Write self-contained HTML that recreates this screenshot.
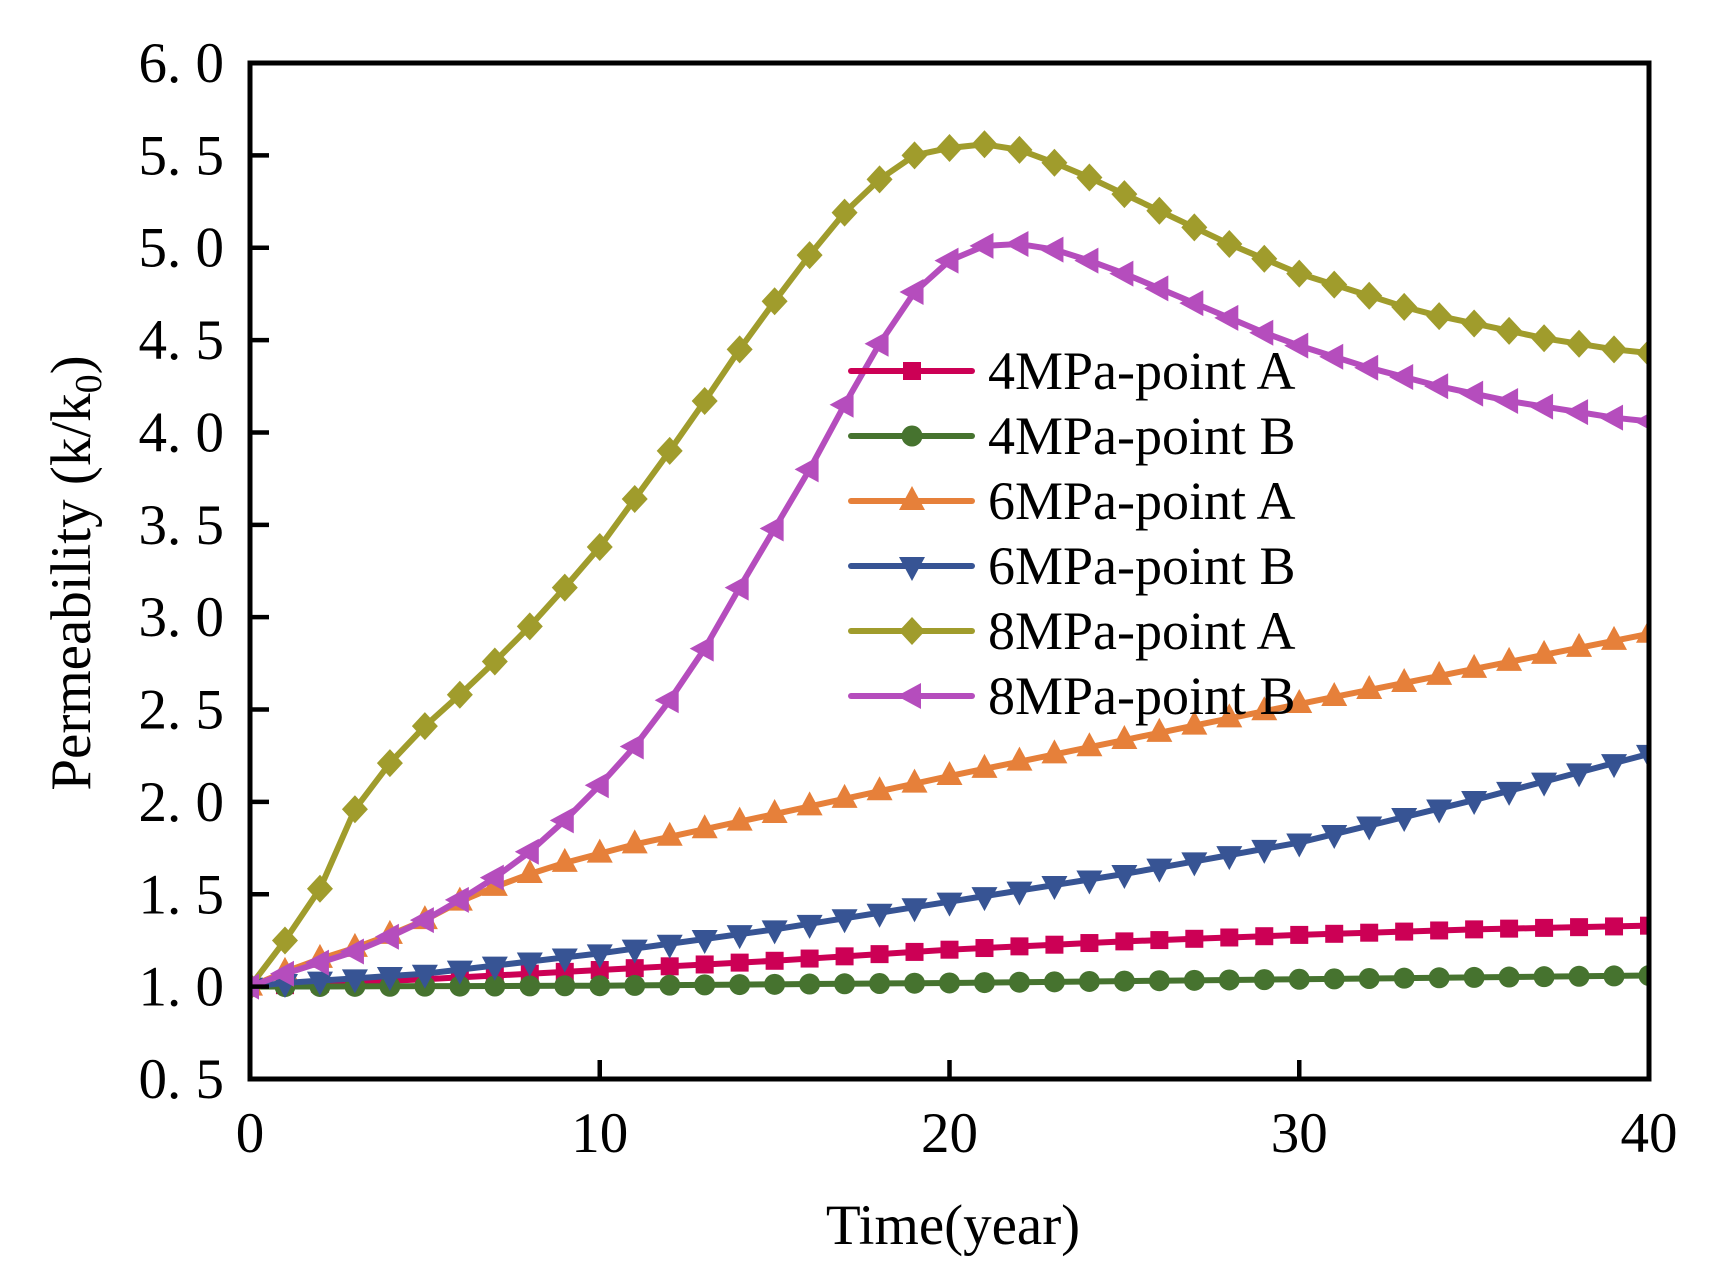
<!DOCTYPE html>
<html><head><meta charset="utf-8"><style>
html,body{margin:0;padding:0;background:#fff;}
svg{display:block;}
text{font-family:"Liberation Serif",serif;fill:#000;}
</style></head><body>
<svg id="s" width="1719" height="1277" xmlns="http://www.w3.org/2000/svg"></svg>
<script>
const S=document.getElementById('s');const NS='http://www.w3.org/2000/svg';
function el(t,a,p){const e=document.createElementNS(NS,t);for(const k in a)e.setAttribute(k,a[k]);(p||S).appendChild(e);return e;}
const L=250,R=1649,T=63,B=1079;
const X=t=>L+(R-L)*t/40, Y=v=>B-(B-T)*(v-0.5)/5.5;
function interp(pts){const o=[];for(let t=0;t<=40;t++){for(let i=0;i<pts.length-1;i++){const[a,va]=pts[i],[b,vb]=pts[i+1];if(t>=a&&t<=b){o.push(va+(vb-va)*(t-a)/(b-a));break;}}}return o;}
const s8A=[1.0,1.25,1.53,1.96,2.21,2.41,2.58,2.76,2.95,3.16,3.38,3.64,3.90,4.17,4.45,4.71,4.96,5.19,5.37,5.50,5.54,5.56,5.53,5.46,5.38,5.29,5.20,5.11,5.02,4.94,4.86,4.80,4.74,4.68,4.63,4.59,4.55,4.51,4.48,4.45,4.43];
const s8B=[1.0,1.07,1.13,1.19,1.27,1.36,1.47,1.59,1.73,1.90,2.09,2.30,2.55,2.83,3.16,3.48,3.80,4.15,4.48,4.76,4.93,5.01,5.02,4.99,4.93,4.86,4.78,4.70,4.62,4.54,4.47,4.41,4.35,4.30,4.25,4.21,4.17,4.14,4.11,4.08,4.06];
const s6A=interp([[0,1],[1,1.08],[2,1.15],[3,1.21],[4,1.28],[5,1.36],[6,1.46],[7,1.54],[8,1.61],[9,1.67],[10,1.72],[11,1.77],[20,2.14],[30,2.53],[40,2.91]]);
const s6B=interp([[0,1],[1,1.02],[5,1.07],[10,1.18],[15,1.31],[20,1.46],[25,1.61],[30,1.78],[35,2.01],[40,2.26]]);
const s4A=interp([[0,1],[5,1.04],[10,1.09],[15,1.14],[20,1.20],[25,1.245],[30,1.28],[35,1.31],[40,1.33]]);
const s4B=interp([[0,1],[10,1.005],[20,1.02],[30,1.04],[40,1.06]]);
function marker(g,type,x,y,c){
 if(type=='sq')el('rect',{x:x-9,y:y-9,width:18,height:18,fill:c},g);
 else if(type=='ci')el('circle',{cx:x,cy:y,r:10.5,fill:c},g);
 else if(type=='up')el('polygon',{points:`${x},${y-15} ${x-13},${y+9} ${x+13},${y+9}`,fill:c},g);
 else if(type=='dn')el('polygon',{points:`${x},${y+15} ${x-13},${y-9} ${x+13},${y-9}`,fill:c},g);
 else if(type=='di')el('polygon',{points:`${x},${y-14} ${x+13},${y} ${x},${y+14} ${x-13},${y}`,fill:c},g);
 else if(type=='lf')el('polygon',{points:`${x-15},${y} ${x+9},${y-13} ${x+9},${y+13}`,fill:c},g);
}
const series=[
 ['4MPa-point A',s4A,'#CC0055','sq'],
 ['4MPa-point B',s4B,'#46732F','ci'],
 ['6MPa-point A',s6A,'#E6803A','up'],
 ['6MPa-point B',s6B,'#375494','dn'],
 ['8MPa-point A',s8A,'#A09C2C','di'],
 ['8MPa-point B',s8B,'#B54DBD','lf'],
];
const defs=el('defs',{});const cp=el('clipPath',{id:'c'},defs);el('rect',{x:L,y:T,width:R-L,height:B-T},cp);
const g=el('g',{'clip-path':'url(#c)'});
series.forEach(([n,d,c,m])=>{
 el('polyline',{points:d.map((v,i)=>X(i)+','+Y(v)).join(' '),fill:'none',stroke:c,'stroke-width':6,'stroke-linejoin':'round'},g);
 d.forEach((v,i)=>marker(g,m,X(i),Y(v),c));
});
series.forEach(([n,d,c,m],i)=>{
 const y=371+65*i;
 el('line',{x1:851,y1:y,x2:972,y2:y,stroke:c,'stroke-width':6,'stroke-linecap':'round'});
 marker(S,m,912,y,c);
 const t=el('text',{x:988,y:y+18,'font-size':54});t.textContent=n;
});
el('rect',{x:L,y:T,width:R-L,height:B-T,fill:'none',stroke:'#000','stroke-width':5});
for(let k=0;k<=11;k++){const v=0.5+0.5*k,y=Y(v);
 el('line',{x1:L,y1:y,x2:L+19,y2:y,stroke:'#000','stroke-width':4.5});
 const t=el('text',{x:224,y:y+19,'font-size':57,'text-anchor':'end'});t.textContent=v.toFixed(1).replace('.','. ');}
for(let k=0;k<=4;k++){const x=X(10*k);
 el('line',{x1:x,y1:B,x2:x,y2:B-19,stroke:'#000','stroke-width':4.5});
 const t=el('text',{x:x,y:1152,'font-size':57,'text-anchor':'middle'});t.textContent=String(10*k);}
const xt=el('text',{x:953,y:1244,'font-size':57,'text-anchor':'middle'});xt.textContent='Time(year)';
const yt=el('text',{x:0,y:0,'font-size':57,'text-anchor':'middle',transform:'translate(90,573) rotate(-90)'});
yt.innerHTML='Permeability (k/k<tspan font-size="38" dy="11">0</tspan><tspan dy="-11">)</tspan>';
</script>
</body></html>
